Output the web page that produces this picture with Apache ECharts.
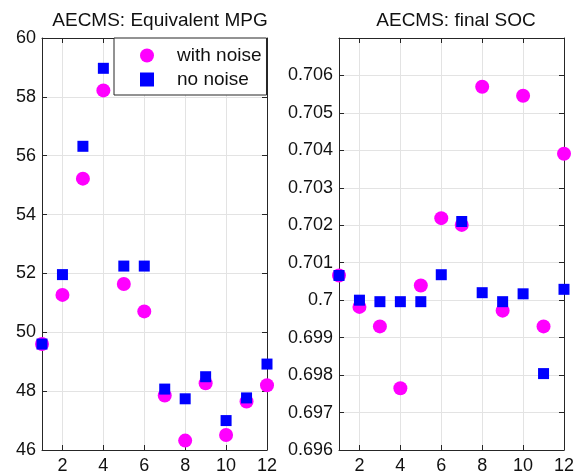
<!DOCTYPE html>
<html><head><meta charset="utf-8">
<script src="https://cdn.jsdelivr.net/npm/echarts@6/dist/echarts.min.js"></script>
<style>html,body{margin:0;padding:0;background:#fff}#c{width:583px;height:476px}</style>
</head><body><div id="c"></div>
<script>
const runs = [1, 2, 3, 4, 5, 6, 7, 8, 9, 10, 11, 12];
const xTicks = [2, 4, 6, 8, 10, 12];
const mpgWithNoise = [49.6, 51.27, 55.22, 58.22, 51.64, 50.71, 47.85, 46.32, 48.27, 46.51, 47.65, 48.2];
const mpgNoNoise = [49.6, 51.96, 56.32, 58.97, 52.25, 52.25, 48.07, 47.74, 48.49, 47.0, 47.77, 48.92];
const socWithNoise = [0.70066, 0.69982, 0.6993, 0.69765, 0.70039, 0.70219, 0.70201, 0.7057, 0.69972, 0.70546, 0.6993, 0.70391];
const socNoNoise = [0.70066, 0.7, 0.69996, 0.69996, 0.69996, 0.70068, 0.7021, 0.7002, 0.69996, 0.70017, 0.69804, 0.70029];

const FONT = 'Liberation Sans, Arial, sans-serif';
const AX = '#262626';
const pairs = arr => runs.map((r, i) => [r, arr[i]]);

function xAxes(gi) {
  return [{
    type: 'value', gridIndex: gi, min: 1, max: 12, position: 'bottom',
    axisLine: { show: true, lineStyle: { color: AX } },
    axisTick: { show: true, inside: true, length: 5, lineStyle: { color: AX }, customValues: xTicks },
    axisLabel: { color: '#111', fontSize: 18, fontFamily: FONT, margin: 7, customValues: xTicks },
    splitLine: { show: true, lineStyle: { color: '#e3e3e3' } }
  }, {
    type: 'value', gridIndex: gi, min: 1, max: 12, position: 'top',
    axisLine: { show: true, lineStyle: { color: AX } },
    axisTick: { show: true, inside: true, length: 5, lineStyle: { color: AX }, customValues: xTicks },
    axisLabel: { show: false },
    splitLine: { show: false }
  }];
}
function yAxes(gi, min, max, interval, showMax) {
  return [{
    type: 'value', gridIndex: gi, min, max, interval, position: 'left',
    axisLine: { show: true, lineStyle: { color: AX } },
    axisTick: { show: true, inside: true, length: 5, lineStyle: { color: AX } },
    axisLabel: { color: '#111', fontSize: 18, fontFamily: FONT, margin: 6, showMaxLabel: showMax },
    splitLine: { show: true, lineStyle: { color: '#e3e3e3' } }
  }, {
    type: 'value', gridIndex: gi, min, max, interval, position: 'right',
    axisLine: { show: true, lineStyle: { color: AX } },
    axisTick: { show: true, inside: true, length: 5, lineStyle: { color: AX } },
    axisLabel: { show: false },
    splitLine: { show: false }
  }];
}

const chart = echarts.init(document.getElementById('c'), null, { renderer: 'canvas' });
chart.setOption({
  animation: false,
  backgroundColor: '#fff',
  title: [
    { text: 'AECMS: Equivalent MPG', left: 155, top: 6, textAlign: 'center',
      textStyle: { fontSize: 19, fontWeight: 'normal', color: '#111', fontFamily: FONT } },
    { text: 'AECMS: final SOC', left: 451, top: 6, textAlign: 'center',
      textStyle: { fontSize: 19, fontWeight: 'normal', color: '#111', fontFamily: FONT } }
  ],
  grid: [
    { left: 42, right: 316, top: 38, bottom: 26 },
    { left: 339, right: 19, top: 38, bottom: 26 }
  ],
  xAxis: [...xAxes(0), ...xAxes(1)],
  yAxis: [...yAxes(0, 46, 60, 2, true), ...yAxes(1, 0.696, 0.707, 0.001, false)],
  legend: {
    left: 114, top: 38,
    orient: 'vertical',
    backgroundColor: '#fff', borderColor: AX, borderWidth: 1,
    padding: [8, 5, 6, 26],
    itemWidth: 14, itemHeight: 14, itemGap: 5,
    textStyle: { fontSize: 19, color: '#111', fontFamily: FONT, padding: [0, 0, 0, 18] },
    data: [{ name: 'with noise', icon: 'circle' }, { name: 'no noise', icon: 'rect' }]
  },
  series: [
    { name: 'with noise', type: 'scatter', xAxisIndex: 0, yAxisIndex: 0, symbol: 'circle', symbolSize: 14,
      itemStyle: { color: '#ff00ff', opacity: 1 }, data: pairs(mpgWithNoise) },
    { name: 'no noise', type: 'scatter', xAxisIndex: 0, yAxisIndex: 0, symbol: 'rect', symbolSize: 11,
      itemStyle: { color: '#0000ff', opacity: 1 }, data: pairs(mpgNoNoise) },
    { name: 'with noise', type: 'scatter', xAxisIndex: 2, yAxisIndex: 2, symbol: 'circle', symbolSize: 14,
      itemStyle: { color: '#ff00ff', opacity: 1 }, data: pairs(socWithNoise) },
    { name: 'no noise', type: 'scatter', xAxisIndex: 2, yAxisIndex: 2, symbol: 'rect', symbolSize: 11,
      itemStyle: { color: '#0000ff', opacity: 1 }, data: pairs(socNoNoise) }
  ]
});
</script>
</body></html>
